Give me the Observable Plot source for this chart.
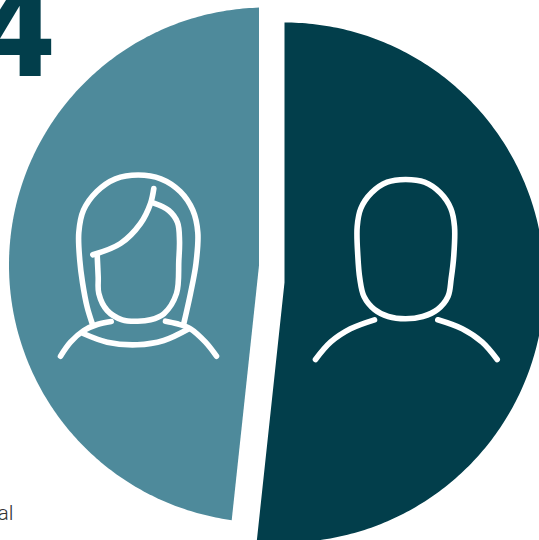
<!DOCTYPE html>
<html>
<head>
<meta charset="utf-8">
<style>
  html, body { margin: 0; padding: 0; background: #fff; }
  svg { display: block; }
</style>
<script src="https://cdn.jsdelivr.net/npm/d3@7"></script>
<script src="https://cdn.jsdelivr.net/npm/@observablehq/plot@0.6"></script>
</head>
<body>
<script>
// Share of each group, in percent.
const groups = ["Women", "Men"];
const shares = [48.3, 51.7];
const groupColors = ["#4e8a9b", "#023e4b"];

const W = 539, H = 540;

// Where each wedge sits: its tip, the circle its rim follows, and its sweep direction.
const wedgeTips = [[258.5, 265], [284, 282]];
const rimCentres = [[266, 264.5], [284, 282]];
const rimRadii = [257.5, 260];
const sweepSigns = [-1, 1];

// Walk the wedge's rim: each bearing from the tip is extended until it meets the circle.
function wedgeOutline(i) {
  const [ax, ay] = wedgeTips[i];
  const [cx, cy] = rimCentres[i];
  const R = rimRadii[i];
  const sweep = shares[i] / 100 * 2 * Math.PI * sweepSigns[i];
  const rows = [{group: groups[i], x: ax, y: ay}];
  for (let k = 0; k <= 240; k++) {
    const t = sweep * k / 240;
    const ux = Math.sin(t), uy = -Math.cos(t);
    const fx = ax - cx, fy = ay - cy;
    const b = fx * ux + fy * uy;
    const r = -b + Math.sqrt(b * b - (fx * fx + fy * fy - R * R));
    rows.push({group: groups[i], x: ax + r * ux, y: ay + r * uy});
  }
  return rows;
}
const wedges = groups.flatMap((_, i) => wedgeOutline(i));

// Person icons, traced as open and closed strokes.
const hairOuter = [[91.7,323],[86.7,306.7],[82,282],[79.3,260],[78.3,232],[83,209.7],[96.3,191],[115,178.3],[137.7,174.5],[160.3,178.3],[179.7,191],[192.3,209.7],[197.3,232],[195.5,263],[190,293],[183.3,323]];
const fringe = [[153.3,188],[150,203],[140,223],[120,243],[92.3,254.3]];
const womanFace = [[153.3,202.7],[168.3,210],[177,222],[179,240],[178.3,260],[176,293],[163.3,313.3],[150,319.3],[137.3,320.7],[121.7,319.3],[106.7,310],[98.3,293],[97.7,276.7],[96.7,255]];
const womanShoulderL = [[60,355.7],[70,341.7],[83.3,330],[96.7,324],[110.7,321]];
const womanShoulderR = [[216,355.7],[205,341.7],[190,328.3],[176.7,323.3],[165,320.7]];
const collar = [[83.3,333.3],[106.7,341.7],[136.7,344.3],[163.3,340],[188.3,328.3]];
const manShoulderL = [[315,359],[330,341.7],[350,328.3],[374,319.3]];
const manShoulderR = [[496.7,359],[481.7,341.7],[461.7,328.3],[437.3,319.3]];
const manHead = [[405,179],[424,181.7],[439.7,192.3],[450.3,208],[454,226],[453.3,255],[450.7,278],[447.5,296],[437,309],[422.3,316],[405,318.3],[387.7,316],[374,309],[363.5,296],[359.3,278],[357.3,255],[356.7,226],[360.3,208],[371,192.3],[386.7,181.7]];

const openStrokes = [hairOuter, fringe, womanFace, womanShoulderL, womanShoulderR, collar, manShoulderL, manShoulderR]
  .flatMap((pts, part) => pts.map(([x, y]) => ({part, x, y})));
const closedStroke = manHead.map(([x, y]) => ({x, y}));

const iconStyle = {stroke: "#fff", strokeWidth: 5.6, strokeLinecap: "round", strokeLinejoin: "round"};

const chart = Plot.plot({
  width: W,
  height: H,
  margin: 0,
  x: {domain: [0, W], range: [0, W], axis: null},
  y: {domain: [0, H], range: [0, H], axis: null},
  color: {domain: groups, range: groupColors},
  marks: [
    Plot.line(wedges, {x: "x", y: "y", z: "group", fill: "group", stroke: null, curve: "linear"}),
    Plot.line(openStrokes, {x: "x", y: "y", z: "part", curve: "catmull-rom", ...iconStyle}),
    Plot.line(closedStroke, {x: "x", y: "y", curve: "catmull-rom-closed", ...iconStyle}),
    Plot.text(["4"], {x: () => 54.5, y: () => 75, text: d => d, textAnchor: "end", lineAnchor: "bottom",
      fontFamily: "Roboto", fontWeight: 800, fontSize: 138, fill: "#023e4b"}),
    Plot.text(["al"], {x: () => 13, y: () => 519, text: d => d, textAnchor: "end", lineAnchor: "bottom",
      fontFamily: "Roboto", fontWeight: 300, fontSize: 21, fill: "#333"})
  ]
});
document.body.appendChild(chart);
</script>
</body>
</html>
